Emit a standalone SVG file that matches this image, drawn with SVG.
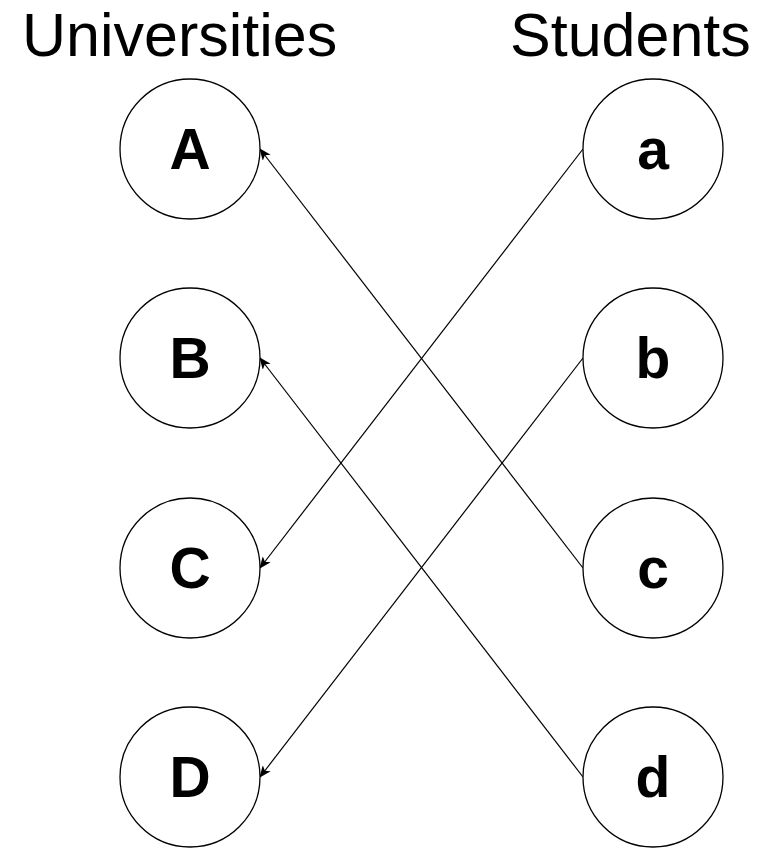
<svg xmlns="http://www.w3.org/2000/svg" width="782" height="848" viewBox="0 0 782 848">
  <style>
    .node circle { fill: #ffffff; stroke: #000000; stroke-width: 1.3; }
    .node text { font-family: "Liberation Sans", Arial, sans-serif; font-weight: bold; font-size: 57px; text-anchor: middle; fill: #000000; }
    .title { font-family: "Liberation Sans", Arial, sans-serif; font-size: 61px; fill: #000000; }
    .edges line { stroke: #000000; stroke-width: 1.2; fill: none; marker-end: url(#arrow); }
  </style>
  <defs>
    <marker id="arrow" viewBox="0 0 12 10" refX="11" refY="5" markerWidth="12" markerHeight="10" markerUnits="userSpaceOnUse" orient="auto">
      <path d="M0,0 L12,5 L0,10 L3,5 Z" fill="#000000"/>
    </marker>
  </defs>
  <rect width="782" height="848" fill="#ffffff"/>

  <text class="title" x="22" y="56">Universities</text>
  <text class="title" x="510" y="56">Students</text>

  <!-- connectors: each student points to one university -->
  <g id="edges" class="edges">
    <line x1="583" y1="149" x2="260" y2="568"/>
    <line x1="583" y1="358" x2="260" y2="777"/>
    <line x1="583" y1="568" x2="260" y2="149"/>
    <line x1="583" y1="777" x2="260" y2="358"/>
  </g>

  <!-- universities -->
  <g id="node-A" class="node"><circle cx="190" cy="149" r="70"/><text x="190" y="169">A</text></g>
  <g id="node-B" class="node"><circle cx="190" cy="358" r="70"/><text x="190" y="378">B</text></g>
  <g id="node-C" class="node"><circle cx="190" cy="568" r="70"/><text x="190" y="588">C</text></g>
  <g id="node-D" class="node"><circle cx="190" cy="777" r="70"/><text x="190" y="797">D</text></g>

  <!-- students -->
  <g id="node-a" class="node"><circle cx="653" cy="149" r="70"/><text x="653" y="169">a</text></g>
  <g id="node-b" class="node"><circle cx="653" cy="358" r="70"/><text x="653" y="378">b</text></g>
  <g id="node-c" class="node"><circle cx="653" cy="568" r="70"/><text x="653" y="588">c</text></g>
  <g id="node-d" class="node"><circle cx="653" cy="777" r="70"/><text x="653" y="797">d</text></g>
</svg>
